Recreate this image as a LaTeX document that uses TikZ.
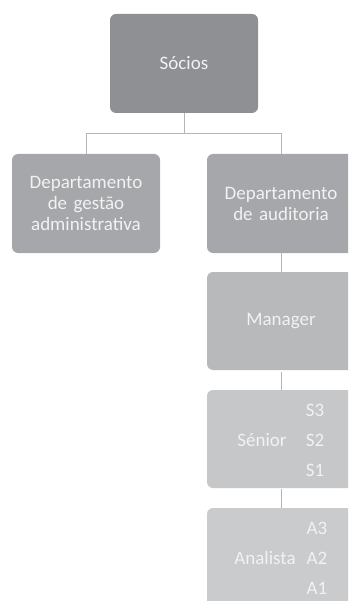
\documentclass[tikz,border=0pt]{standalone}
\usepackage{fontspec}
\setmainfont{Carlito}
\usepackage{tikz}
\usetikzlibrary{positioning}
\definecolor{socioscol}{HTML}{8F9094}
\definecolor{deptcol}{HTML}{A6A7AA}
\definecolor{managercol}{HTML}{B8B9BB}
\definecolor{seniorcol}{HTML}{C6C7C9}
\definecolor{analistacol}{HTML}{CACBCD}
\definecolor{linkcol}{HTML}{B5B5B5}
\definecolor{labelcol}{HTML}{F2F2F2}

\begin{document}
\begin{tikzpicture}[x=1pt,y=1pt,
    orgbox/.style={rectangle,rounded corners=6pt,minimum width=148pt,
      text width=144pt,align=center,text=labelcol,inner sep=0pt,
      font=\fontsize{19}{21}\selectfont},
    boxlabel/.style={text=labelcol,inner sep=0pt,font=\fontsize{19}{21}\selectfont},
    link/.style={draw=linkcol,line width=0.8pt}]
  \useasboundingbox (0,0) rectangle (348,-601);
  \clip (0,0) rectangle (348,-601);
  \node[orgbox,fill=socioscol,minimum height=99pt] (socios) at (184,-63.5) {Sócios};
  \node[orgbox,fill=deptcol,minimum height=99pt] (gestao) at (86,-203.5) {Departamento\\de gestão\\administrativa};
  \node[orgbox,fill=deptcol,minimum height=99pt] (auditoria) at (281,-203.5) {Departamento\\de auditoria};
  \node[orgbox,fill=managercol,minimum height=98pt] (manager) at (281,-321) {Manager};
  \node[orgbox,fill=seniorcol,minimum height=98pt] (senior) at (281,-439) {};
  \node[orgbox,fill=analistacol,minimum height=99pt] (analista) at (281,-557.5) {};

  \node[boxlabel] (seniorname) at (262,-440) {Sénior};
  \node[boxlabel] (s3) at (315,-410) {S3};
  \node[boxlabel] (s2) at (315,-440) {S2};
  \node[boxlabel] (s1) at (315,-470) {S1};
  \node[boxlabel] (analistaname) at (265,-558) {Analista};
  \node[boxlabel] (a3) at (317,-528) {A3};
  \node[boxlabel] (a2) at (317,-558) {A2};
  \node[boxlabel] (a1) at (317,-588) {A1};

  \draw[link] (socios.south) -- ++(0,-20) coordinate (split) -| (gestao.north);
  \draw[link] (split) -| (auditoria.north);
  \draw[link] (auditoria.south) -- (manager.north);
  \draw[link] ([yshift=-2pt]manager.south) -- (senior.north);
  \draw[link] ([yshift=-1pt]senior.south) -- (analista.north);
\end{tikzpicture}
\end{document}
